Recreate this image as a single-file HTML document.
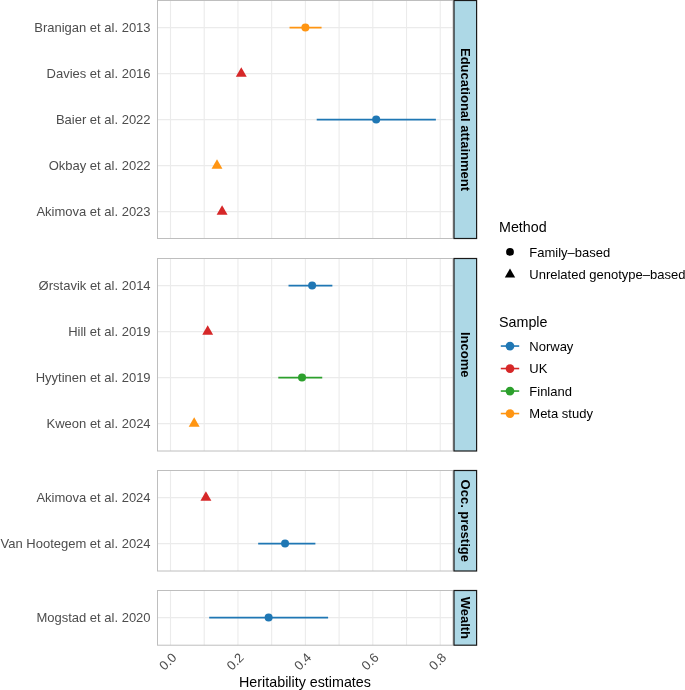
<!DOCTYPE html>
<html><head><meta charset="utf-8"><style>
html,body{margin:0;padding:0;background:#fff;}
svg{display:block;will-change:transform;font-family:"Liberation Sans",sans-serif;}
</style></head><body>
<svg width="685" height="690" viewBox="0 0 685 690">
<rect width="685" height="690" fill="#fff"/>

<g stroke="#EBEBEB" stroke-width="1.1"><line x1="170.50" y1="0.5" x2="170.50" y2="238.5"/><line x1="204.22" y1="0.5" x2="204.22" y2="238.5"/><line x1="237.94" y1="0.5" x2="237.94" y2="238.5"/><line x1="271.66" y1="0.5" x2="271.66" y2="238.5"/><line x1="305.38" y1="0.5" x2="305.38" y2="238.5"/><line x1="339.10" y1="0.5" x2="339.10" y2="238.5"/><line x1="372.82" y1="0.5" x2="372.82" y2="238.5"/><line x1="406.54" y1="0.5" x2="406.54" y2="238.5"/><line x1="440.26" y1="0.5" x2="440.26" y2="238.5"/><line x1="157.5" y1="27.60" x2="453.0" y2="27.60"/><line x1="157.5" y1="73.60" x2="453.0" y2="73.60"/><line x1="157.5" y1="119.60" x2="453.0" y2="119.60"/><line x1="157.5" y1="165.60" x2="453.0" y2="165.60"/><line x1="157.5" y1="211.60" x2="453.0" y2="211.60"/></g>
<rect x="157.5" y="0.5" width="295.5" height="238.0" fill="none" stroke="#BEBEBE" stroke-width="1.0"/>
<line x1="289.53" y1="27.60" x2="321.57" y2="27.60" stroke="#FF9512" stroke-width="1.6"/>
<circle cx="305.38" cy="27.60" r="4.0" fill="#FF9512"/>
<text x="150.6" y="32.25" text-anchor="end" font-size="13" fill="#4D4D4D">Branigan et al. 2013</text>
<path d="M241.28 67.30L246.73 76.75L235.82 76.75Z" fill="#D62728"/>
<text x="150.6" y="78.25" text-anchor="end" font-size="13" fill="#4D4D4D">Davies et al. 2016</text>
<line x1="316.71" y1="119.60" x2="435.88" y2="119.60" stroke="#1F77B4" stroke-width="1.6"/>
<circle cx="376.19" cy="119.60" r="4.0" fill="#1F77B4"/>
<text x="150.6" y="124.25" text-anchor="end" font-size="13" fill="#4D4D4D">Baier et al. 2022</text>
<path d="M217.00 159.30L222.46 168.75L211.54 168.75Z" fill="#FF9512"/>
<text x="150.6" y="170.25" text-anchor="end" font-size="13" fill="#4D4D4D">Okbay et al. 2022</text>
<path d="M222.09 205.30L227.55 214.75L216.64 214.75Z" fill="#D62728"/>
<text x="150.6" y="216.25" text-anchor="end" font-size="13" fill="#4D4D4D">Akimova et al. 2023</text>
<rect x="454.0" y="0.5" width="22.600000000000023" height="238.0" fill="#ADD8E6" stroke="#1a1a1a" stroke-width="1.2"/>
<text transform="translate(461.0 119.50) rotate(90)" text-anchor="middle" font-size="13" font-weight="bold" fill="#000">Educational attainment</text>
<g stroke="#EBEBEB" stroke-width="1.1"><line x1="170.50" y1="258.5" x2="170.50" y2="451.0"/><line x1="204.22" y1="258.5" x2="204.22" y2="451.0"/><line x1="237.94" y1="258.5" x2="237.94" y2="451.0"/><line x1="271.66" y1="258.5" x2="271.66" y2="451.0"/><line x1="305.38" y1="258.5" x2="305.38" y2="451.0"/><line x1="339.10" y1="258.5" x2="339.10" y2="451.0"/><line x1="372.82" y1="258.5" x2="372.82" y2="451.0"/><line x1="406.54" y1="258.5" x2="406.54" y2="451.0"/><line x1="440.26" y1="258.5" x2="440.26" y2="451.0"/><line x1="157.5" y1="285.60" x2="453.0" y2="285.60"/><line x1="157.5" y1="331.60" x2="453.0" y2="331.60"/><line x1="157.5" y1="377.60" x2="453.0" y2="377.60"/><line x1="157.5" y1="423.60" x2="453.0" y2="423.60"/></g>
<rect x="157.5" y="258.5" width="295.5" height="192.5" fill="none" stroke="#BEBEBE" stroke-width="1.0"/>
<line x1="288.52" y1="285.60" x2="332.36" y2="285.60" stroke="#1F77B4" stroke-width="1.6"/>
<circle cx="312.12" cy="285.60" r="4.0" fill="#1F77B4"/>
<text x="150.6" y="290.25" text-anchor="end" font-size="13" fill="#4D4D4D">Ørstavik et al. 2014</text>
<path d="M207.69 325.30L213.15 334.75L202.24 334.75Z" fill="#D62728"/>
<text x="150.6" y="336.25" text-anchor="end" font-size="13" fill="#4D4D4D">Hill et al. 2019</text>
<line x1="278.30" y1="377.60" x2="322.24" y2="377.60" stroke="#2CA02C" stroke-width="1.6"/>
<circle cx="302.01" cy="377.60" r="4.0" fill="#2CA02C"/>
<text x="150.6" y="382.25" text-anchor="end" font-size="13" fill="#4D4D4D">Hyytinen et al. 2019</text>
<path d="M194.17 417.30L199.63 426.75L188.72 426.75Z" fill="#FF9512"/>
<text x="150.6" y="428.25" text-anchor="end" font-size="13" fill="#4D4D4D">Kweon et al. 2024</text>
<rect x="454.0" y="258.5" width="22.600000000000023" height="192.5" fill="#ADD8E6" stroke="#1a1a1a" stroke-width="1.2"/>
<text transform="translate(461.0 354.75) rotate(90)" text-anchor="middle" font-size="13" font-weight="bold" fill="#000">Income</text>
<g stroke="#EBEBEB" stroke-width="1.1"><line x1="170.50" y1="470.5" x2="170.50" y2="571.0"/><line x1="204.22" y1="470.5" x2="204.22" y2="571.0"/><line x1="237.94" y1="470.5" x2="237.94" y2="571.0"/><line x1="271.66" y1="470.5" x2="271.66" y2="571.0"/><line x1="305.38" y1="470.5" x2="305.38" y2="571.0"/><line x1="339.10" y1="470.5" x2="339.10" y2="571.0"/><line x1="372.82" y1="470.5" x2="372.82" y2="571.0"/><line x1="406.54" y1="470.5" x2="406.54" y2="571.0"/><line x1="440.26" y1="470.5" x2="440.26" y2="571.0"/><line x1="157.5" y1="497.60" x2="453.0" y2="497.60"/><line x1="157.5" y1="543.60" x2="453.0" y2="543.60"/></g>
<rect x="157.5" y="470.5" width="295.5" height="100.5" fill="none" stroke="#BEBEBE" stroke-width="1.0"/>
<path d="M205.91 491.30L211.36 500.75L200.45 500.75Z" fill="#D62728"/>
<text x="150.6" y="502.25" text-anchor="end" font-size="13" fill="#4D4D4D">Akimova et al. 2024</text>
<line x1="258.17" y1="543.60" x2="315.39" y2="543.60" stroke="#1F77B4" stroke-width="1.6"/>
<circle cx="285.05" cy="543.60" r="4.0" fill="#1F77B4"/>
<text x="150.6" y="548.25" text-anchor="end" font-size="13" fill="#4D4D4D">Van Hootegem et al. 2024</text>
<rect x="454.0" y="470.5" width="22.600000000000023" height="100.5" fill="#ADD8E6" stroke="#1a1a1a" stroke-width="1.2"/>
<text transform="translate(461.0 520.75) rotate(90)" text-anchor="middle" font-size="13" font-weight="bold" fill="#000">Occ. prestige</text>
<g stroke="#EBEBEB" stroke-width="1.1"><line x1="170.50" y1="590.5" x2="170.50" y2="645.2"/><line x1="204.22" y1="590.5" x2="204.22" y2="645.2"/><line x1="237.94" y1="590.5" x2="237.94" y2="645.2"/><line x1="271.66" y1="590.5" x2="271.66" y2="645.2"/><line x1="305.38" y1="590.5" x2="305.38" y2="645.2"/><line x1="339.10" y1="590.5" x2="339.10" y2="645.2"/><line x1="372.82" y1="590.5" x2="372.82" y2="645.2"/><line x1="406.54" y1="590.5" x2="406.54" y2="645.2"/><line x1="440.26" y1="590.5" x2="440.26" y2="645.2"/><line x1="157.5" y1="617.60" x2="453.0" y2="617.60"/></g>
<rect x="157.5" y="590.5" width="295.5" height="54.700000000000045" fill="none" stroke="#BEBEBE" stroke-width="1.0"/>
<line x1="209.21" y1="617.60" x2="328.11" y2="617.60" stroke="#1F77B4" stroke-width="1.6"/>
<circle cx="268.63" cy="617.60" r="4.0" fill="#1F77B4"/>
<text x="150.6" y="622.25" text-anchor="end" font-size="13" fill="#4D4D4D">Mogstad et al. 2020</text>
<rect x="454.0" y="590.5" width="22.600000000000023" height="54.700000000000045" fill="#ADD8E6" stroke="#1a1a1a" stroke-width="1.2"/>
<text transform="translate(461.0 617.85) rotate(90)" text-anchor="middle" font-size="13" font-weight="bold" fill="#000">Wealth</text>
<text transform="translate(177.30 658.3) rotate(-45)" text-anchor="end" font-size="13" fill="#4D4D4D">0.0</text>
<text transform="translate(244.74 658.3) rotate(-45)" text-anchor="end" font-size="13" fill="#4D4D4D">0.2</text>
<text transform="translate(312.18 658.3) rotate(-45)" text-anchor="end" font-size="13" fill="#4D4D4D">0.4</text>
<text transform="translate(379.62 658.3) rotate(-45)" text-anchor="end" font-size="13" fill="#4D4D4D">0.6</text>
<text transform="translate(447.06 658.3) rotate(-45)" text-anchor="end" font-size="13" fill="#4D4D4D">0.8</text>
<text x="305" y="686.9" text-anchor="middle" font-size="14.3" fill="#000">Heritability estimates</text>
<text x="499.0" y="231.7" font-size="14.3" fill="#000">Method</text>
<circle cx="510" cy="251.9" r="3.9" fill="#000"/>
<path d="M510.00 268.60L515.20 277.60L504.80 277.60Z" fill="#000"/>
<text x="529.3" y="256.6" font-size="13" fill="#000">Family–based</text>
<text x="529.3" y="279.1" font-size="13" fill="#000">Unrelated genotype–based</text>
<text x="499.0" y="326.7" font-size="14.3" fill="#000">Sample</text>
<line x1="500.8" y1="346.05" x2="519.2" y2="346.05" stroke="#1F77B4" stroke-width="1.6"/>
<circle cx="510" cy="346.05" r="4.35" fill="#1F77B4"/>
<text x="529.3" y="350.70" font-size="13" fill="#000">Norway</text>
<line x1="500.8" y1="368.55" x2="519.2" y2="368.55" stroke="#D62728" stroke-width="1.6"/>
<circle cx="510" cy="368.55" r="4.35" fill="#D62728"/>
<text x="529.3" y="373.20" font-size="13" fill="#000">UK</text>
<line x1="500.8" y1="391.05" x2="519.2" y2="391.05" stroke="#2CA02C" stroke-width="1.6"/>
<circle cx="510" cy="391.05" r="4.35" fill="#2CA02C"/>
<text x="529.3" y="395.70" font-size="13" fill="#000">Finland</text>
<line x1="500.8" y1="413.55" x2="519.2" y2="413.55" stroke="#FF9512" stroke-width="1.6"/>
<circle cx="510" cy="413.55" r="4.35" fill="#FF9512"/>
<text x="529.3" y="418.20" font-size="13" fill="#000">Meta study</text>
</svg></body></html>
